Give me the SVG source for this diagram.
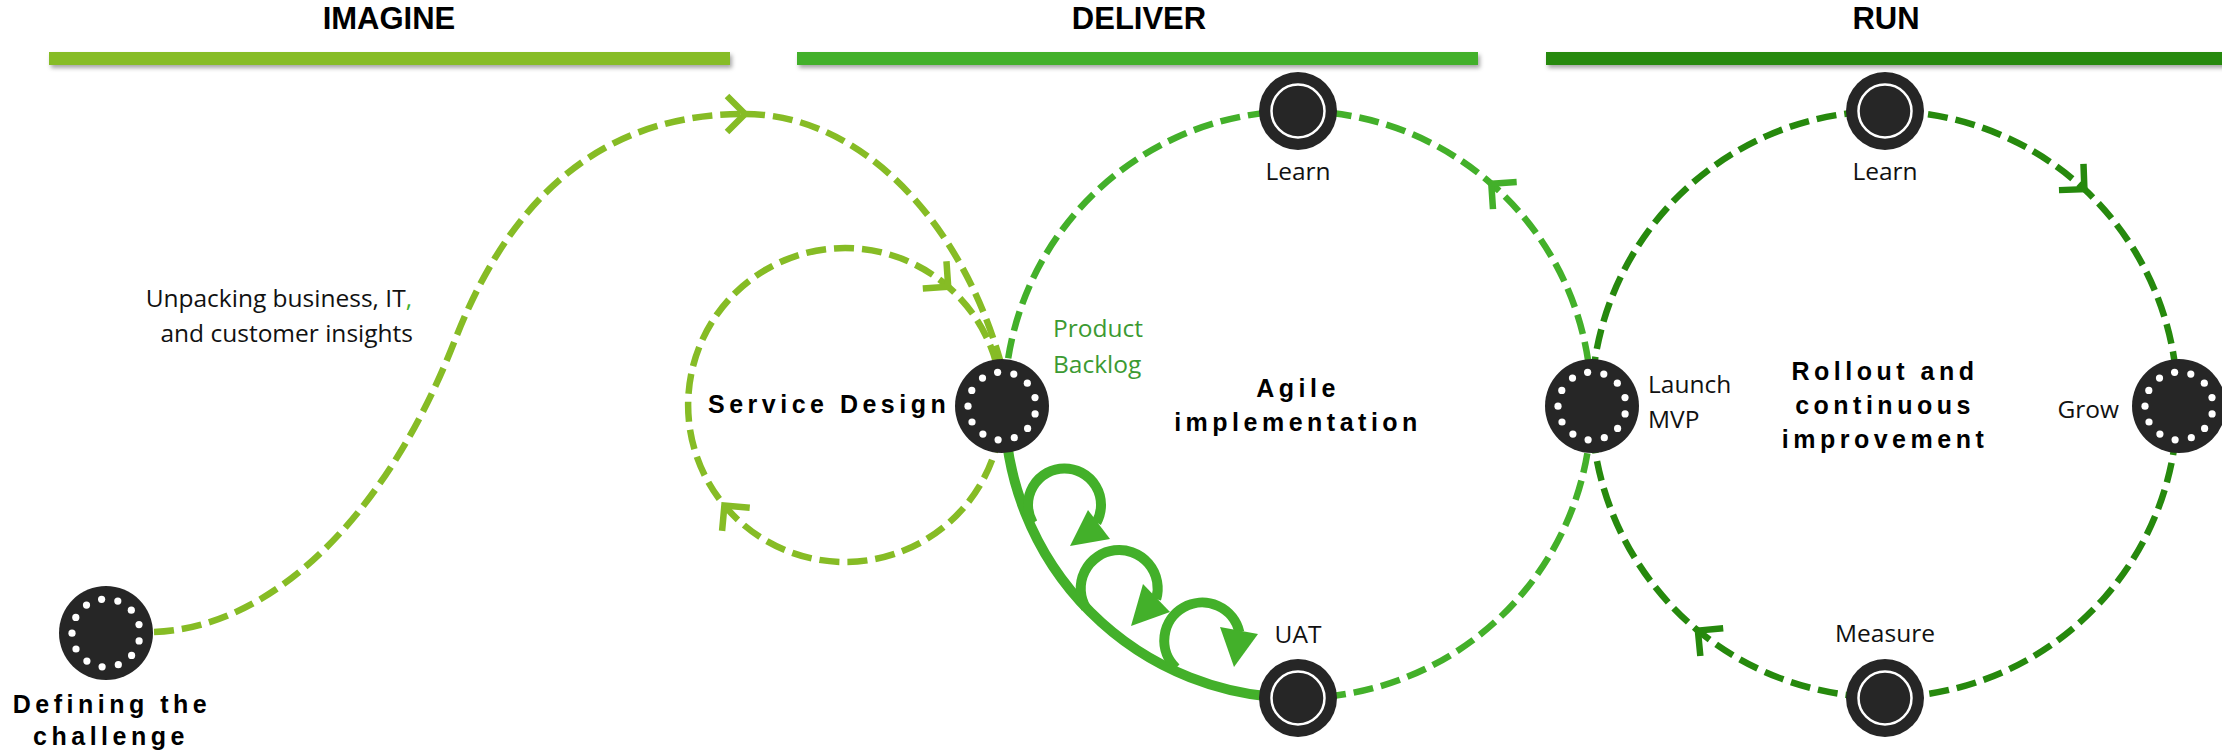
<svg xmlns="http://www.w3.org/2000/svg" xmlns:xlink="http://www.w3.org/1999/xlink" width="2222" height="753" viewBox="0 0 2222 753">
<style>
.dash{fill:none;stroke-width:6.5;stroke-dasharray:20 8}
.c1{stroke:#86BC25}.c2{stroke:#43B02A}.c3{stroke:#26890D}
.nd{fill:#262626}
.t{font-family:"Open Sans","Liberation Sans",Arial,sans-serif;font-size:24.5px;fill:#111}
.b{font-family:"Liberation Sans",Arial,sans-serif;font-weight:700;font-size:25px;letter-spacing:4.5px;fill:#000}
.h{font-family:"Liberation Sans",Arial,sans-serif;font-weight:700;font-size:31px;fill:#000;text-anchor:middle}
.m{text-anchor:middle}
.pb{fill:#3C9A32}
</style>
<defs>
<filter id="sh" x="-5%" y="-50%" width="110%" height="250%"><feDropShadow dx="2" dy="3" stdDeviation="2" flood-color="#000" flood-opacity="0.35"/></filter>
<marker id="chA" markerUnits="userSpaceOnUse" viewBox="0 0 50 50" markerWidth="50" markerHeight="50" refX="25" refY="25" orient="auto" overflow="visible"><path d="M7,7 L25,25 L7,43" fill="none" stroke="#86BC25" stroke-width="6.5"/></marker>
<marker id="chB" markerUnits="userSpaceOnUse" viewBox="0 0 50 50" markerWidth="50" markerHeight="50" refX="25" refY="25" orient="auto" overflow="visible"><path d="M7,7 L25,25 L7,43" fill="none" stroke="#43B02A" stroke-width="6.5"/></marker>
<marker id="chC" markerUnits="userSpaceOnUse" viewBox="0 0 50 50" markerWidth="50" markerHeight="50" refX="25" refY="25" orient="auto" overflow="visible"><path d="M7,7 L25,25 L7,43" fill="none" stroke="#26890D" stroke-width="6.5"/></marker>
<g id="dnode">
<circle r="47" class="nd"/>
<g fill="#fff">
<circle cx="-4.4" cy="-33.7" r="3.6"/><circle cx="11.8" cy="-31.9" r="3.6"/><circle cx="25.3" cy="-22.8" r="3.6"/><circle cx="33" cy="-8.4" r="3.6"/><circle cx="33.1" cy="7.9" r="3.6"/><circle cx="25.6" cy="22.4" r="3.6"/><circle cx="12.3" cy="31.7" r="3.6"/><circle cx="-3.9" cy="33.8" r="3.6"/><circle cx="-19.1" cy="28.1" r="3.6"/><circle cx="-30" cy="16" r="3.6"/><circle cx="-34" cy="0.2" r="3.6"/><circle cx="-30.2" cy="-15.6" r="3.6"/><circle cx="-19.5" cy="-27.9" r="3.6"/>
</g>
</g>
<g id="rnode">
<circle r="39" class="nd"/>
<circle r="26.5" fill="none" stroke="#fff" stroke-width="2.5"/>
</g>
</defs>
<rect width="2222" height="753" fill="#fff"/>

<g id="phases">
<rect x="49" y="52" width="681" height="13" fill="#86BC25" filter="url(#sh)"/>
<rect x="797" y="52" width="681" height="13" fill="#43B02A" filter="url(#sh)"/>
<rect x="1546" y="52" width="690" height="13" fill="#26890D" filter="url(#sh)"/>
<text class="h" x="389" y="29">IMAGINE</text>
<text class="h" x="1139" y="29">DELIVER</text>
<text class="h" x="1886" y="29">RUN</text>
</g>

<g id="connectors">
<path class="dash c1" d="M154,632 C270,628 385,520 455,340 C500,225 580,114 745,114" marker-end="url(#chA)"/>
<path class="dash c1" d="M745,114 C860,114 960,220 1000,360"/>
<path class="dash c1" d="M1002,405 A157,157 0 0 1 724.4,505.5 A157,157 0 0 1 948.2,286.7 A157,157 0 0 1 1002,405" marker-mid="url(#chA)"/>
<path class="dash c2" d="M1298,698 A293.5,293.5 0 0 0 1491.3,183.7 A293.5,293.5 0 0 0 1004.5,404.5" marker-mid="url(#chB)"/>
<path class="dash c3" d="M1591.5,404.5 A293.5,293.5 0 0 1 2084.4,189.2 A293.5,293.5 0 0 1 1697.9,630.6 A293.5,293.5 0 0 1 1591.5,404.5" marker-mid="url(#chC)"/>
<g fill="none" stroke="#43B02A" stroke-width="10">
<path d="M1004.5,404.5 A293.5,293.5 0 0 0 1298,698"/>
<path d="M1032.8,523 A36.5,36.5 0 1 1 1096.5,522.5"/>
<path d="M1086,608 A38.5,38.5 0 1 1 1156.2,599.2"/>
<path d="M1176,668 A38,38 0 1 1 1239.3,632"/>
</g>
<g fill="#43B02A">
<polygon points="1088,510 1110,539 1070,546"/>
<polygon points="1143,584 1170,612 1131,626"/>
<polygon points="1220,627 1258,634 1234,667"/>
</g>
</g>

<g id="node-defining">
<use href="#dnode" x="106" y="633"/>
<text class="b m" x="112" y="713">Defining the</text>
<text class="b m" x="111" y="745">challenge</text>
</g>
<g id="node-insights">
<text class="t" x="412" y="307" text-anchor="end">Unpacking business, IT<tspan class="c2" style="fill:#43B02A;stroke:none">,</tspan></text>
<text class="t" x="413" y="342" text-anchor="end">and customer insights</text>
</g>
<g id="node-service-design">
<use href="#dnode" x="1002" y="406"/>
<text class="b" x="708" y="413" letter-spacing="3.6">Service Design</text>
<text class="t pb" x="1053" y="337">Product</text>
<text class="t pb" x="1053" y="373">Backlog</text>
</g>
<g id="node-agile">
<text class="b m" x="1298" y="397">Agile</text>
<text class="b m" x="1298" y="431">implementation</text>
</g>
<g id="node-learn-deliver">
<use href="#rnode" x="1298" y="111"/>
<text class="t m" x="1298" y="180">Learn</text>
</g>
<g id="node-uat">
<use href="#rnode" x="1298" y="698"/>
<text class="t m" x="1298" y="643">UAT</text>
</g>
<g id="node-launch">
<use href="#dnode" x="1592" y="406"/>
<text class="t" x="1648" y="393">Launch</text>
<text class="t" x="1648" y="428">MVP</text>
</g>
<g id="node-rollout">
<text class="b m" x="1885" y="380">Rollout and</text>
<text class="b m" x="1885" y="414">continuous</text>
<text class="b m" x="1885" y="448">improvement</text>
</g>
<g id="node-learn-run">
<use href="#rnode" x="1885" y="111"/>
<text class="t m" x="1885" y="180">Learn</text>
</g>
<g id="node-grow">
<use href="#dnode" x="2179" y="406"/>
<text class="t" x="2119" y="418" text-anchor="end">Grow</text>
</g>
<g id="node-measure">
<use href="#rnode" x="1885" y="698"/>
<text class="t m" x="1885" y="642">Measure</text>
</g>
</svg>
